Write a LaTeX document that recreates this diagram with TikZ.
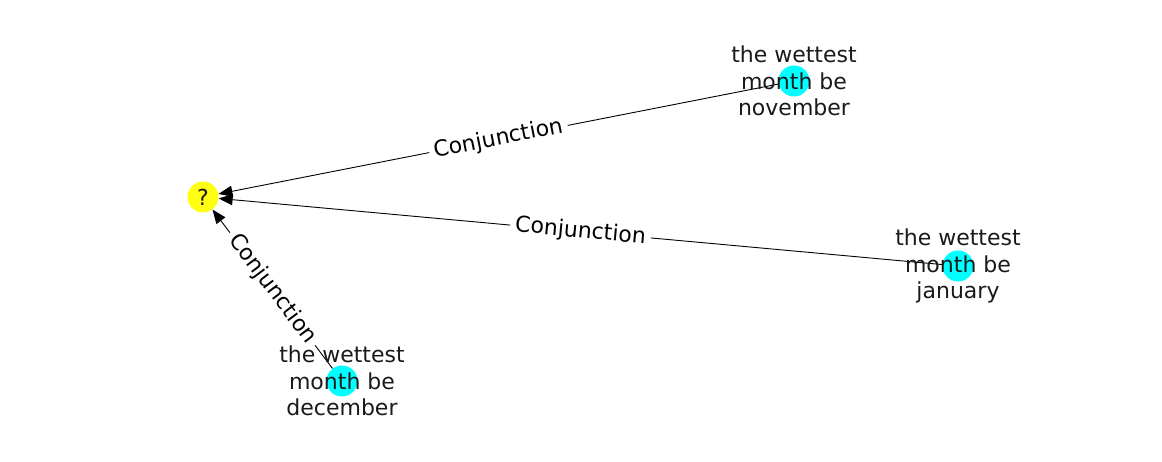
\documentclass[tikz,border=0pt]{standalone}
\usepackage{fontspec}
\setmainfont{DejaVu Sans}
\usetikzlibrary{arrows.meta}
\definecolor{txt}{HTML}{1A1A1A}
\definecolor{ncyan}{RGB}{0,255,255}
\definecolor{nyellow}{RGB}{255,255,17}
\tikzset{
  gnode/.style={circle, minimum size=31pt, inner sep=0pt},
  nlabel/.style={align=center, text=txt, font=\fontsize{22}{26.5}\selectfont},
  elabel/.style={fill=white, inner xsep=5pt, inner ysep=3pt, text=black, font=\fontsize{22}{26}\selectfont, sloped, midway},
  edge/.style={line width=0.9pt, -{Triangle[length=14pt,width=11pt]}}
}
\begin{document}
\begin{tikzpicture}[x=1pt,y=-1pt]
\useasboundingbox (0,0) rectangle (1162,462);
% node positions
\coordinate (pq) at (203,197);
\coordinate (pn) at (794,81);
\coordinate (pj) at (958,266);
\coordinate (pd) at (342,381);
% invisible shapes for edge endpoints
\node[gnode] (q) at (pq) {};
\node[gnode] (n) at (pn) {};
\node[gnode] (j) at (pj) {};
\node[gnode] (d) at (pd) {};
% edges
\draw[edge] (n) -- node[elabel] (ln) {Conjunction} (q);
\draw[edge] (j) -- node[elabel] (lj) {Conjunction} (q);
\draw[edge] (d) -- node[elabel] (ld) {Conjunction} (q);
% node discs
\fill[nyellow] (pq) circle (15.5);
\fill[ncyan] (pn) circle (15.5);
\fill[ncyan] (pj) circle (15.5);
\fill[ncyan] (pd) circle (15.5);
% node labels
\node[nlabel] (tq) at (pq) {?};
\node[nlabel] (tn) at (pn) {the wettest\\month be\\november};
\node[nlabel] (tj) at (pj) {the wettest\\month be\\january};
\node[nlabel] (td) at (pd) {the wettest\\month be\\december};
\end{tikzpicture}
\end{document}
